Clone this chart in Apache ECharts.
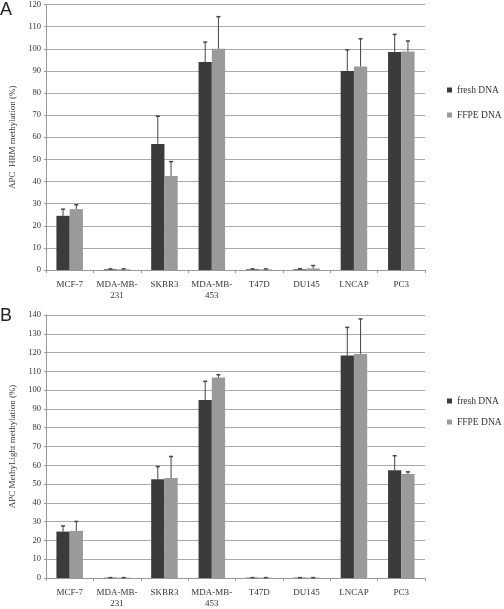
<!DOCTYPE html>
<html><head><meta charset="utf-8">
<script src="https://cdn.jsdelivr.net/npm/echarts@6/dist/echarts.min.js"></script>
<style>html,body{margin:0;padding:0;background:#fff}#c{width:504px;height:609px}</style>
</head><body><div id="c"></div>
<script>
const categories = ['MCF-7','MDA-MB-\n231','SKBR3','MDA-MB-\n453','T47D','DU145','LNCAP','PC3'];
const seriesNames = ['fresh DNA','FFPE DNA'];
const yTicksA = {min:0, max:120, interval:10};
const yTicksB = {min:0, max:140, interval:10};
const aFresh = [24.5, 0.3, 57, 94, 0.3, 0.3, 90, 98.5];
const aFreshErr = [3, 0.2, 12.5, 9, 0.2, 0.3, 9.5, 8];
const aFFPE = [27.5, 0.3, 42.5, 100, 0.3, 0.7, 92, 98.8];
const aFFPEErr = [2, 0.2, 6.5, 14.5, 0.2, 1.3, 12.5, 4.7];
const bFresh = [24.7, 0.2, 52.6, 94.7, 0.2, 0.2, 118.4, 57.4];
const bFreshErr = [3, 0, 6.7, 10, 0, 0, 15, 7.7];
const bFFPE = [25.1, 0.2, 53.2, 106.7, 0.2, 0.2, 119.3, 55.4];
const bFFPEErr = [5, 0, 11.5, 1.5, 0, 0, 18.6, 1.1];

const FONT = 'Liberation Serif';
const colors = ['#3b3b3b', '#9a9a9a'];
const BAR_FRAC = 0.28;

function errSeries(gi, si, vals, errs) {
  return {
    type: 'custom', xAxisIndex: gi, yAxisIndex: gi, z: 5, silent: true,
    data: vals.map((v, i) => [i, v, v + errs[i]]),
    renderItem: function (params, api) {
      const cat = api.value(0);
      const base = api.coord([cat, api.value(1)]);
      const top = api.coord([cat, api.value(2)]);
      const bw = api.size([1, 0])[0] * BAR_FRAC;
      const x = base[0] + (si === 0 ? -0.5 : 0.5) * bw;
      const st = {stroke: '#444', lineWidth: 1};
      return {type: 'group', children: [
        {type: 'line', shape: {x1: x, y1: base[1], x2: x, y2: top[1]}, style: st},
        {type: 'line', shape: {x1: x - 2, y1: top[1], x2: x + 2, y2: top[1]}, style: {stroke: '#444', lineWidth: 1.5}}
      ]};
    }
  };
}

function xAxis(gi) {
  return {
    type: 'category', gridIndex: gi, data: categories,
    axisLine: {lineStyle: {color: '#999'}},
    axisTick: {show: true, length: 3, lineStyle: {color: '#999'}},
    axisLabel: {fontFamily: FONT, fontSize: 9, color: '#333', margin: 9, lineHeight: 11, interval: 0}
  };
}
function yAxis(gi, t, name) {
  return {
    type: 'value', gridIndex: gi, min: t.min, max: t.max, interval: t.interval,
    name: name, nameLocation: 'middle', nameGap: 29,
    nameTextStyle: {fontFamily: FONT, fontSize: 9, color: '#333'},
    axisLine: {show: true, lineStyle: {color: '#999'}},
    axisTick: {show: true, length: 2, lineStyle: {color: '#999'}},
    axisLabel: {fontFamily: FONT, fontSize: 8.5, color: '#333', margin: 5},
    splitLine: {lineStyle: {color: '#aaa', width: 1}}
  };
}
function barSeries(gi, si, vals) {
  return {
    type: 'bar', name: seriesNames[si], xAxisIndex: gi, yAxisIndex: gi,
    data: vals, barWidth: (BAR_FRAC * 100) + '%', barGap: '0%',
    itemStyle: {color: colors[si]}
  };
}

const chart = echarts.init(document.getElementById('c'), null, {renderer: 'canvas'});
chart.setOption({
  animation: false,
  color: colors,
  grid: [
    {left: 42, top: 4, width: 383, height: 266},
    {left: 42, top: 315, width: 383, height: 266}
  ],
  xAxis: [xAxis(0), xAxis(1)],
  yAxis: [yAxis(0, yTicksA, 'APC  HRM methylation (%)'), yAxis(1, yTicksB, 'APC MethyLight methylation (%)')],
  legend: [
    {orient: 'vertical', left: 442, top: 80, itemWidth: 5, itemHeight: 5, itemGap: 15, icon: 'rect',
     data: seriesNames, textStyle: {fontFamily: FONT, fontSize: 9.5, color: '#333'}, selectedMode: false},
    {orient: 'vertical', left: 442, top: 391, itemWidth: 5, itemHeight: 5, itemGap: 11, icon: 'rect',
     data: seriesNames, textStyle: {fontFamily: FONT, fontSize: 9.5, color: '#333'}, selectedMode: false}
  ],
  graphic: [
    {type: 'text', left: 0, top: 1, style: {text: 'A', font: '18px "Liberation Sans"', fill: '#222'}},
    {type: 'text', left: 0, top: 307, style: {text: 'B', font: '18px "Liberation Sans"', fill: '#222'}}
  ],
  series: [
    barSeries(0, 0, aFresh), barSeries(0, 1, aFFPE),
    barSeries(1, 0, bFresh), barSeries(1, 1, bFFPE),
    errSeries(0, 0, aFresh, aFreshErr), errSeries(0, 1, aFFPE, aFFPEErr),
    errSeries(1, 0, bFresh, bFreshErr), errSeries(1, 1, bFFPE, bFFPEErr)
  ]
});
</script></body></html>
